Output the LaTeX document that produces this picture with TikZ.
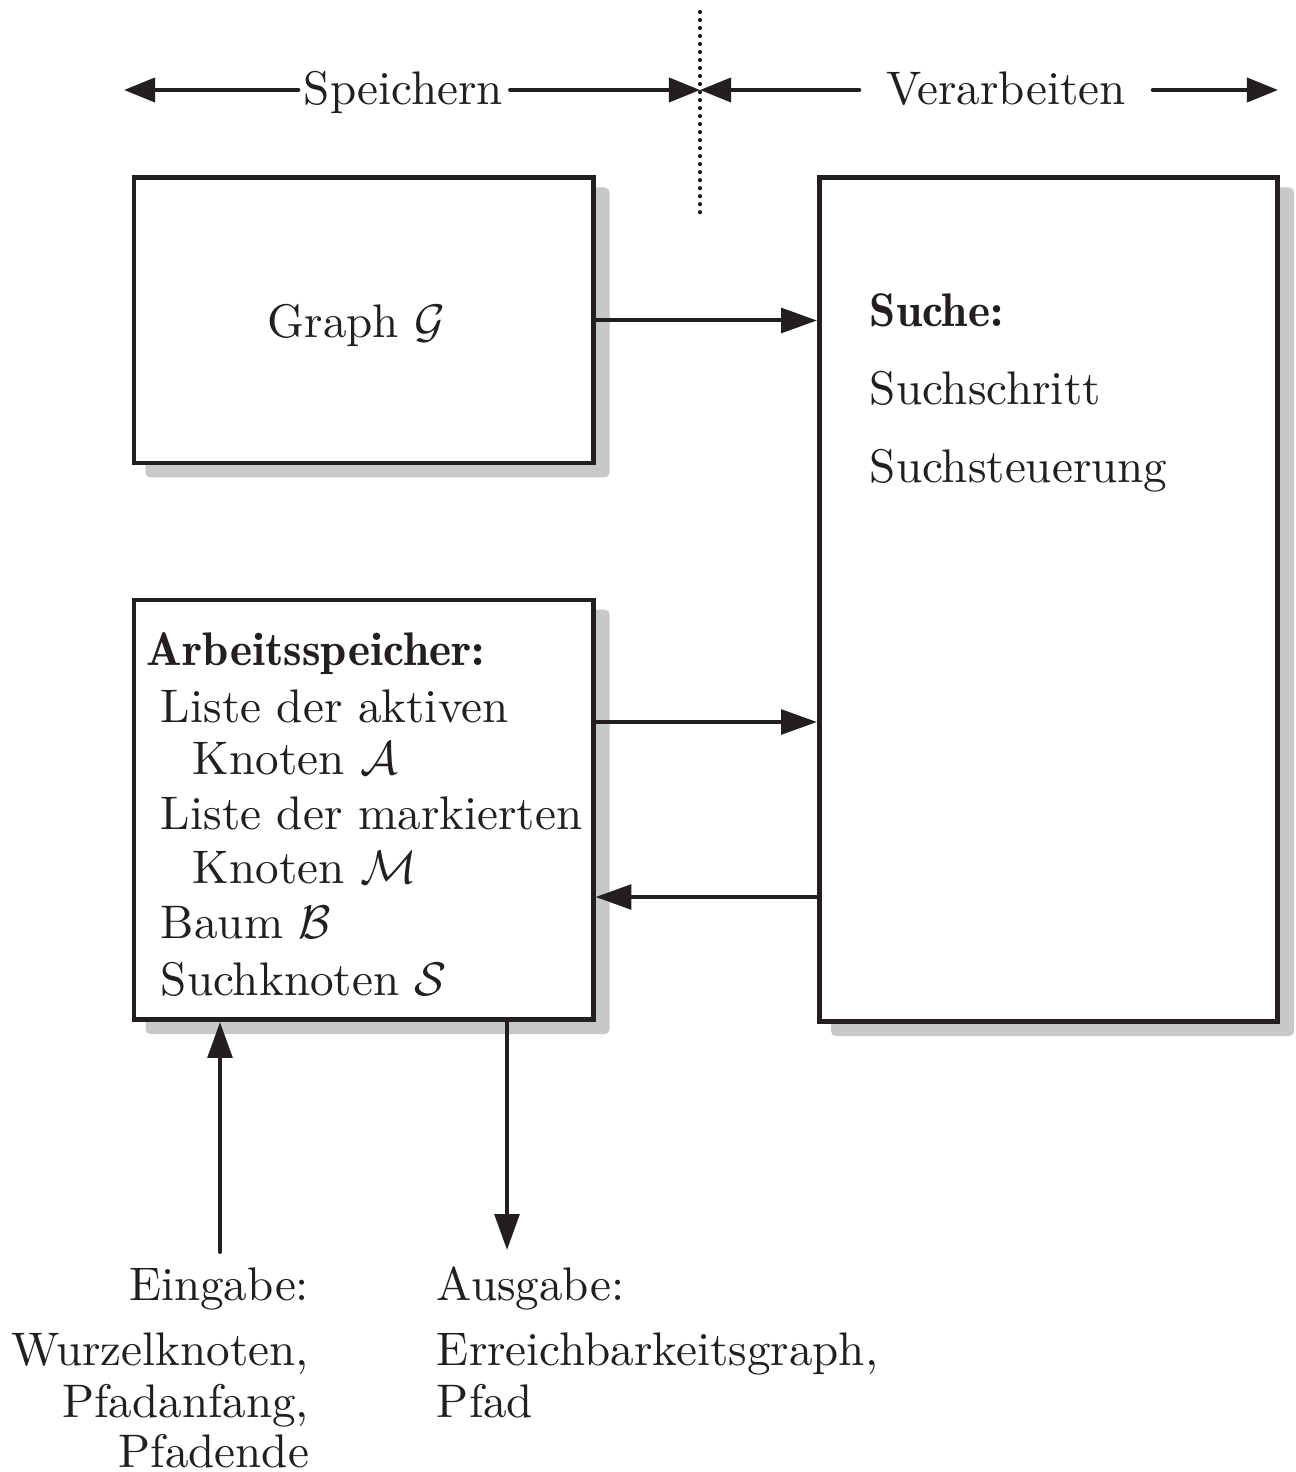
\documentclass[tikz,border=0pt]{standalone}
\usetikzlibrary{arrows.meta,fit,backgrounds}
\definecolor{ink}{RGB}{35,31,32}
\definecolor{shade}{RGB}{199,200,202}
\newcommand{\hd}[1]{{\fontseries{b}\selectfont #1}}
\begin{document}
\begin{tikzpicture}[x=0.2123pt,y=-0.2123pt,
  box/.style={draw=ink, line width=1.06pt, fill=white, inner sep=0pt},
  conn/.style={draw=ink, line width=0.85pt, line cap=round,
    -{Triangle[length=7.6pt,width=5.2pt]}},
  span/.style={draw=ink, line width=0.85pt, line cap=round,
    -{Triangle[length=6.6pt,width=5.1pt]}},
  sep/.style={draw=ink, line width=0.9pt, line cap=round, dash pattern=on 0pt off 1.7pt},
  txt/.style={inner sep=0pt, text=ink, anchor=base west},
  txtr/.style={inner sep=0pt, text=ink, anchor=base east},
  shadowfill/.style={fill=shade, rounded corners=1pt}]
\useasboundingbox (0,0) rectangle (1295,1472);

% boxes
\node[box, fit={(134,178) (593,463)}] (g) {};
\node[box, fit={(134,600) (593,1019.5)}] (a) {};
\node[box, fit={(819.5,178) (1277.5,1021.5)}] (s) {};

% drop shadows
\begin{scope}[on background layer]
  \foreach \b in {g,a,s}
    \fill[shadowfill] ([shift={(14,12)}]\b.north west) rectangle ([shift={(14,12)}]\b.south east);
\end{scope}

% box contents
\node[inner sep=0pt, text=ink, anchor=base] (gt) at (356.5,338) {Graph $\mathcal{G}$};

\node[txt] (s1) at (869,327) {\hd{Suche:}};
\node[txt] (s2) at (869,405) {Suchschritt};
\node[txt] (s3) at (869,483) {Suchsteuerung};

\node[txt] (a0) at (146,665) {\hd{Arbeitsspeicher:}};
\node[txt] (a1) at (160,722) {Liste der aktiven};
\node[txt] (a2) at (192,774) {Knoten $\mathcal{A}$};
\node[txt] (a3) at (160,829) {Liste der markierten};
\node[txt] (a4) at (192,883) {Knoten $\mathcal{M}$};
\node[txt] (a5) at (160,938) {Baum $\mathcal{B}$};
\node[txt] (a6) at (160,995) {Suchknoten $\mathcal{S}$};

% connections between the boxes
\coordinate (ya) at (0,722);
\coordinate (yb) at (0,897);
\draw[conn] (g.east) -- (g.east -| s.west);
\draw[conn] (a.east |- ya) -- (s.west |- ya);
\draw[conn] (s.west |- yb) -- (a.east |- yb);

% input and output
\coordinate (in) at (220,1252);
\coordinate (out) at (507,1250);
\draw[conn] (in) -- (in |- a.south);
\draw[conn] (out |- a.south) -- (out);

\node[txtr] (e0) at (310,1300) {Eingabe:};
\node[txtr] (e1) at (310,1365) {Wurzelknoten,};
\node[txtr] (e2) at (310,1417) {Pfadanfang,};
\node[txtr] (e3) at (310,1467) {Pfadende};

\node[txt] (o0) at (436,1300) {Ausgabe:};
\node[txt] (o1) at (436,1365) {Erreichbarkeitsgraph,};
\node[txt] (o2) at (436,1417) {Pfad};

% header: storing vs. processing
\node[inner sep=0pt, text=ink, anchor=base] (sp) at (403.5,105) {Speichern};
\node[inner sep=0pt, text=ink, anchor=base] (vb) at (1006,105) {Verarbeiten};
\coordinate (tl) at (124,90);
\coordinate (tm) at (700,90);
\coordinate (tr) at (1278,90);
\coordinate (dt) at (700,12);
\coordinate (db) at (700,215);
\draw[sep] (dt) -- (db);
\draw[span, shorten <=1pt] (sp.west |- tl) -- (tl);
\draw[span, shorten <=1.3pt] (sp.east |- tm) -- (tm);
\draw[span, shorten <=5.5pt] (vb.west |- tm) -- (tm);
\draw[span, shorten <=5.5pt] (vb.east |- tr) -- (tr);
\end{tikzpicture}
\end{document}
